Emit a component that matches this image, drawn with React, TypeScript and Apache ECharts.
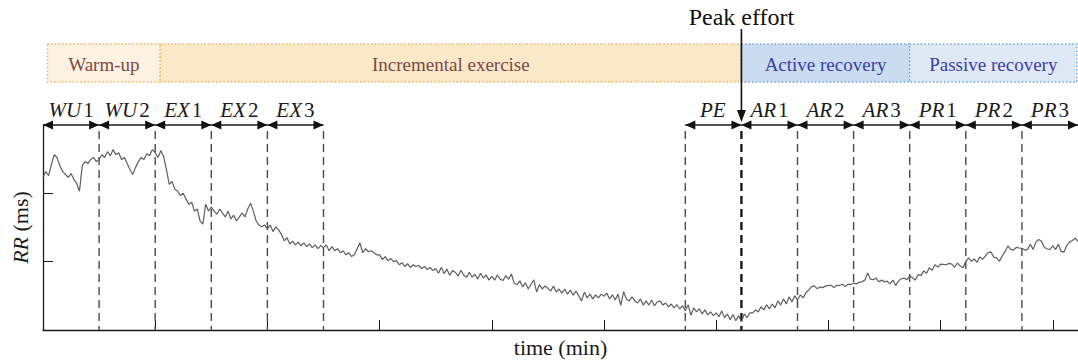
import React, { useEffect, useRef } from "react";
import * as echarts from "echarts";

// ---- data ----
const sampleStep = 0.05; // minutes between RR samples
const rrMs: number[] = [
  647, 664, 652, 684, 713, 705, 681, 664, 655, 647, 658, 641, 629, 606, 681, 693, 687, 699, 705, 693,
  699, 713, 705, 722, 710, 728, 713, 719, 699, 705, 687, 670, 655, 676, 693, 705, 699, 716, 710, 728,
  719, 705, 725, 708, 670, 626, 635, 612, 606, 594, 600, 583, 568, 574, 548, 554, 519, 510, 568, 548,
  560, 548, 539, 554, 542, 531, 548, 525, 536, 519, 531, 542, 531, 554, 571, 548, 519, 507, 502, 507,
  496, 507, 488, 502, 493, 480, 461, 470, 452, 460, 449, 457, 446, 455, 444, 452, 441, 449, 438, 447,
  441, 449, 432, 444, 432, 438, 426, 432, 420, 426, 415, 420, 438, 455, 426, 438, 429, 432, 426, 420,
  420, 406, 415, 403, 409, 400, 403, 391, 397, 386, 394, 383, 391, 386, 389, 380, 386, 377, 383, 374,
  380, 366, 383, 365, 378, 360, 374, 369, 358, 375, 361, 354, 369, 355, 363, 349, 366, 352, 361, 346,
  357, 346, 361, 349, 345, 359, 349, 364, 337, 333, 344, 326, 338, 320, 334, 347, 311, 333, 320, 329,
  322, 314, 329, 311, 320, 308, 320, 305, 317, 302, 314, 300, 285, 311, 294, 305, 291, 303, 294, 305,
  299, 308, 291, 303, 288, 305, 272, 312, 291, 285, 297, 285, 279, 291, 273, 285, 273, 288, 271, 282,
  285, 273, 279, 268, 276, 265, 274, 262, 271, 256, 274, 243, 265, 253, 262, 247, 259, 244, 253, 242,
  250, 239, 256, 236, 247, 230, 245, 227, 242, 224, 247, 236, 250, 250, 259, 253, 268, 259, 274, 262,
  276, 265, 285, 273, 291, 276, 297, 282, 300, 288, 303, 294, 309, 317, 327, 329, 321, 326, 324, 329,
  330, 331, 324, 331, 330, 334, 327, 334, 333, 337, 335, 340, 341, 346, 367, 349, 347, 352, 341, 346,
  341, 343, 335, 346, 330, 343, 350, 352, 347, 358, 353, 346, 362, 360, 373, 366, 382, 375, 391, 384,
  393, 392, 391, 395, 393, 384, 396, 387, 382, 401, 411, 401, 408, 398, 414, 407, 417, 427, 428, 413,
  411, 401, 417, 430, 446, 436, 434, 442, 440, 439, 434, 436, 451, 436, 457, 465, 460, 442, 437, 436,
  446, 436, 451, 430, 428, 447, 457, 462, 469, 459,
];

const timeMax = 18.45;
const rrMin = 200;
const rrMax = 800;
const rrTickStep = 200;
const timeTickStep = 2;

const phaseNames = ["Warm-up", "Incremental exercise", "Active recovery", "Passive recovery"];
const phaseKinds = ["warm", "exercise", "active", "passive"];
const phaseStart = [0.08, 2.09, 12.45, 15.45];
const phaseEnd = [2.09, 12.45, 15.45, 18.43];

const segmentLabels = ["WU1", "WU2", "EX1", "EX2", "EX3", "PE", "AR1", "AR2", "AR3", "PR1", "PR2", "PR3"];
const segmentStart = [0, 1, 2, 3, 4, 11.45, 12.45, 13.45, 14.45, 15.45, 16.45, 17.45];
const segmentEnd = [1, 2, 3, 4, 5, 12.45, 13.45, 14.45, 15.45, 16.45, 17.45, 18.45];

const boundaries = [1, 2, 3, 4, 5, 11.45, 12.45, 13.45, 14.45, 15.45, 16.45, 17.45];
const peakTime = 12.45;
const peakLabel = "Peak effort";

// ---- styles ----
const SERIF = "Liberation Serif";
const INK = "#1a1a1a";
const phaseStyle: Record<string, { fill: string; stroke: string; text: string }> = {
  warm: { fill: "#fdf1e1", stroke: "#f3a640", text: "#7a4a48" },
  exercise: { fill: "#fae8c9", stroke: "#f3a640", text: "#7a4a48" },
  active: { fill: "#cbdcf0", stroke: "#5a9ad6", text: "#3a3ea6" },
  passive: { fill: "#dfe8f5", stroke: "#5a9ad6", text: "#3a3ea6" },
};

function arrowHead(tipX: number, tipY: number, dir: number, color: string) {
  const len = 10;
  const half = 4.5;
  return {
    type: "polygon",
    shape: {
      points: [
        [tipX, tipY],
        [tipX - dir * len, tipY - half],
        [tipX - dir * len, tipY + half],
      ],
    },
    style: { fill: color },
  };
}

export default function App() {
  const ref = useRef<HTMLDivElement>(null);

  useEffect(() => {
    if (!ref.current) return;
    const chart = echarts.init(ref.current, null, { renderer: "svg" });

    const lineData = rrMs.map((v, i) => [Number((i * sampleStep).toFixed(2)), v]);

    const option: any = {
      animation: false,
      textStyle: { fontFamily: SERIF },
      grid: { left: 43, right: 0, top: 125, bottom: 31, containLabel: false },
      xAxis: {
        type: "value",
        min: 0,
        max: timeMax,
        interval: timeTickStep,
        axisLine: { show: true, onZero: false, lineStyle: { color: INK, width: 1.3 } },
        axisTick: { show: true, inside: true, length: 10, lineStyle: { color: INK, width: 1 } },
        axisLabel: { show: false },
        splitLine: { show: false },
        name: "time (min)",
        nameLocation: "middle",
        nameGap: 6,
        nameTextStyle: { fontFamily: SERIF, fontSize: 22, color: INK, verticalAlign: "top" },
      },
      yAxis: {
        type: "value",
        min: rrMin,
        max: rrMax,
        interval: rrTickStep,
        axisLine: { show: true, lineStyle: { color: INK, width: 1.3 } },
        axisTick: { show: true, inside: true, length: 10, lineStyle: { color: INK, width: 1 } },
        axisLabel: { show: false },
        splitLine: { show: false },
        name: "{i|RR} {n|(ms)}",
        nameLocation: "middle",
        nameGap: 12,
        nameRotate: 90,
        nameTextStyle: {
          color: INK,
          fontFamily: SERIF,
          fontSize: 22,
          rich: {
            i: { fontFamily: SERIF, fontStyle: "italic", fontSize: 22, color: INK },
            n: { fontFamily: SERIF, fontSize: 22, color: INK },
          },
        },
      },
      series: [
        // phase bands above the plot
        {
          type: "custom",
          silent: true,
          clip: false,
          z: 1,
          encode: { x: [0, 1], y: 2 },
          data: phaseStart.map((s, i) => [s, phaseEnd[i], rrMin, i]),
          renderItem: (_p: any, api: any) => {
            const i = api.value(3);
            const st = phaseStyle[phaseKinds[i]];
            const x1 = api.coord([api.value(0), rrMin])[0];
            const x2 = api.coord([api.value(1), rrMin])[0];
            const top = api.coord([0, rrMax])[1];
            const y0 = top - 81;
            const h = 38;
            return {
              type: "group",
              children: [
                {
                  type: "rect",
                  shape: { x: x1, y: y0, width: x2 - x1, height: h },
                  style: { fill: st.fill, stroke: st.stroke, lineWidth: 1.3, lineDash: [1.3, 2.4] },
                },
                {
                  type: "text",
                  x: (x1 + x2) / 2,
                  y: y0 + h / 2 + 1,
                  style: {
                    text: phaseNames[i],
                    fontFamily: SERIF,
                    fontSize: 19,
                    fill: st.text,
                    align: "center",
                    verticalAlign: "middle",
                  },
                },
              ],
            };
          },
        },
        // dashed boundaries
        {
          type: "custom",
          silent: true,
          clip: false,
          z: 2,
          encode: { x: [0, 1], y: 2 },
          data: boundaries.map((b, i) => [b, b, rrMin, i]),
          renderItem: (_p: any, api: any) => {
            const t = api.value(0);
            const [x, yb] = api.coord([t, rrMin]);
            const yt = api.coord([t, rrMax])[1];
            const isPeak = Math.abs(t - peakTime) < 1e-6;
            return {
              type: "line",
              shape: { x1: x, y1: yt + 6, x2: x, y2: yb },
              style: {
                stroke: isPeak ? "#111" : "#4a4a4a",
                lineWidth: isPeak ? 2.3 : 1.4,
                lineDash: [8, 5],
              },
            };
          },
        },
        // RR series
        {
          type: "line",
          z: 3,
          data: lineData,
          showSymbol: false,
          symbol: "none",
          lineStyle: { color: "#5f5f5f", width: 1.2 },
        },
        // segment arrows and labels
        {
          type: "custom",
          silent: true,
          clip: false,
          z: 4,
          encode: { x: [0, 1], y: 2 },
          data: segmentStart.map((s, i) => [s, segmentEnd[i], rrMin, i]),
          renderItem: (_p: any, api: any) => {
            const i = api.value(3);
            const x1 = api.coord([api.value(0), rrMax])[0];
            const x2 = api.coord([api.value(1), rrMax])[0];
            const y = api.coord([api.value(0), rrMax])[1];
            const label = segmentLabels[i];
            const letters = (label.match(/^[A-Z]+/) || [""])[0];
            const digits = label.slice(letters.length);
            const text = `{i|${letters}}` + (digits ? `{n|${digits}}` : "");
            return {
              type: "group",
              children: [
                { type: "line", shape: { x1, y1: y, x2, y2: y }, style: { stroke: INK, lineWidth: 1.3 } },
                arrowHead(x1, y, -1, "#111"),
                arrowHead(x2, y, 1, "#111"),
                {
                  type: "text",
                  x: (x1 + x2) / 2,
                  y: y - 15,
                  style: {
                    text,
                    align: "center",
                    verticalAlign: "middle",
                    fill: INK,
                    fontFamily: SERIF,
                    fontSize: 21,
                    rich: {
                      i: { fontFamily: SERIF, fontStyle: "italic", fontSize: 21, fill: INK, padding: [0, 1, 0, 0] },
                      n: { fontFamily: SERIF, fontSize: 21, fill: INK, padding: [0, 0, 0, 1] },
                    },
                  },
                },
              ],
            };
          },
        },
        // peak effort annotation
        {
          type: "custom",
          silent: true,
          clip: false,
          z: 5,
          encode: { x: [0, 1], y: 2 },
          data: [[peakTime, peakTime, rrMax]],
          renderItem: (_p: any, api: any) => {
            const x = api.coord([api.value(0), rrMax])[0];
            const top = api.coord([api.value(0), rrMax])[1];
            const tipY = top - 3;
            return {
              type: "group",
              children: [
                {
                  type: "text",
                  x,
                  y: top - 108,
                  style: {
                    text: peakLabel,
                    fontFamily: SERIF,
                    fontSize: 24,
                    fill: "#111",
                    align: "center",
                    verticalAlign: "middle",
                  },
                },
                { type: "line", shape: { x1: x, y1: top - 96, x2: x, y2: tipY - 8 }, style: { stroke: "#111", lineWidth: 1.6 } },
                {
                  type: "polygon",
                  shape: { points: [[x, tipY], [x - 4.5, tipY - 12], [x + 4.5, tipY - 12]] },
                  style: { fill: "#111" },
                },
              ],
            };
          },
        },
      ],
    };

    chart.setOption(option);
    return () => chart.dispose();
  }, []);

  return (
    <div
      ref={ref}
      style={{ position: "absolute", left: 0, top: 0, width: 1078, height: 363, background: "#fff" }}
    />
  );
}
